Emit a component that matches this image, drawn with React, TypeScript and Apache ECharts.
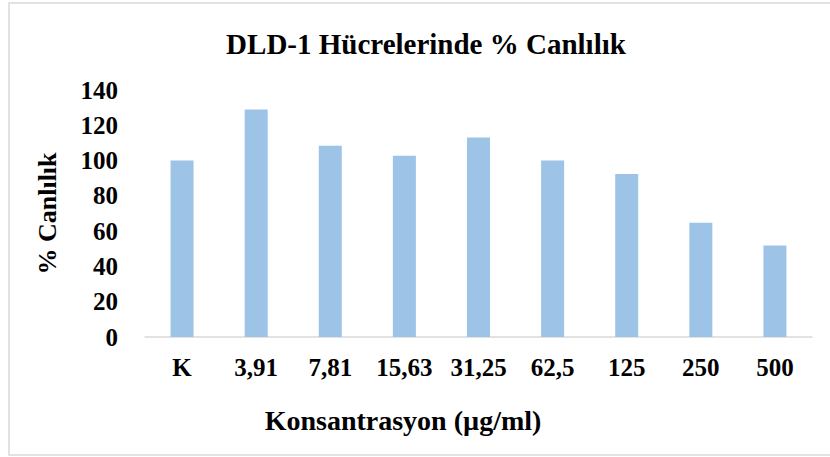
import React, { useEffect, useRef } from "react";
import * as echarts from "echarts";

const categories = ["K", "3,91", "7,81", "15,63", "31,25", "62,5", "125", "250", "500"];
const viability = [100, 129, 108.4, 102.8, 113.1, 100.1, 92.4, 64.8, 51.8];
const titleText = "DLD-1 Hücrelerinde % Canlılık";
const xName = "Konsantrasyon (µg/ml)";
const yName = "% Canlılık";

const FONT = "'Liberation Serif', 'Times New Roman', serif";

export default function App() {
  const ref = useRef<HTMLDivElement>(null);
  useEffect(() => {
    if (!ref.current) return;
    const chart = echarts.init(ref.current, undefined, { renderer: "svg" });
    chart.setOption({
      animation: false,
      backgroundColor: "#ffffff",
      title: {
        text: titleText,
        left: 421,
        top: 24,
        textAlign: "center",
        textStyle: { fontFamily: FONT, fontWeight: "bold", fontSize: 29, color: "#000" },
      },
      grid: { left: 145, right: 18, top: 90, bottom: 120, containLabel: false },
      xAxis: {
        type: "category",
        data: categories,
        axisLine: { show: true, lineStyle: { color: "#d9d9d9", width: 1.5 } },
        axisTick: { show: false },
        axisLabel: {
          margin: 18,
          fontFamily: FONT,
          fontWeight: "bold",
          fontSize: 25,
          color: "#000",
          interval: 0,
        },
      },
      yAxis: {
        type: "value",
        min: 0,
        max: 140,
        interval: 20,
        name: yName,
        nameLocation: "middle",
        nameGap: 85,
        nameTextStyle: { fontFamily: FONT, fontWeight: "bold", fontSize: 26, color: "#000" },
        axisLine: { show: false },
        axisTick: { show: false },
        splitLine: { show: false },
        axisLabel: {
          margin: 27,
          fontFamily: FONT,
          fontWeight: "bold",
          fontSize: 25,
          color: "#000",
        },
      },
      series: [
        {
          type: "bar",
          data: viability,
          barWidth: 23,
          itemStyle: { color: "#9DC3E6" },
        },
      ],
      graphic: [
        {
          type: "rect",
          shape: { x: 9, y: 3, width: 830, height: 452 },
          style: { fill: "none", stroke: "#d9d9d9", lineWidth: 1.5 },
          silent: true,
          z: -1,
        },
        {
          type: "text",
          x: 403,
          y: 420,
          style: {
            text: xName,
            fontFamily: FONT,
            fontWeight: "bold",
            fontSize: 28,
            fill: "#000",
            align: "center",
            verticalAlign: "middle",
          },
        },
      ],
    });
    return () => chart.dispose();
  }, []);
  return (
    <div
      ref={ref}
      style={{ position: "fixed", left: 0, top: 0, width: 830, height: 457 }}
    />
  );
}
